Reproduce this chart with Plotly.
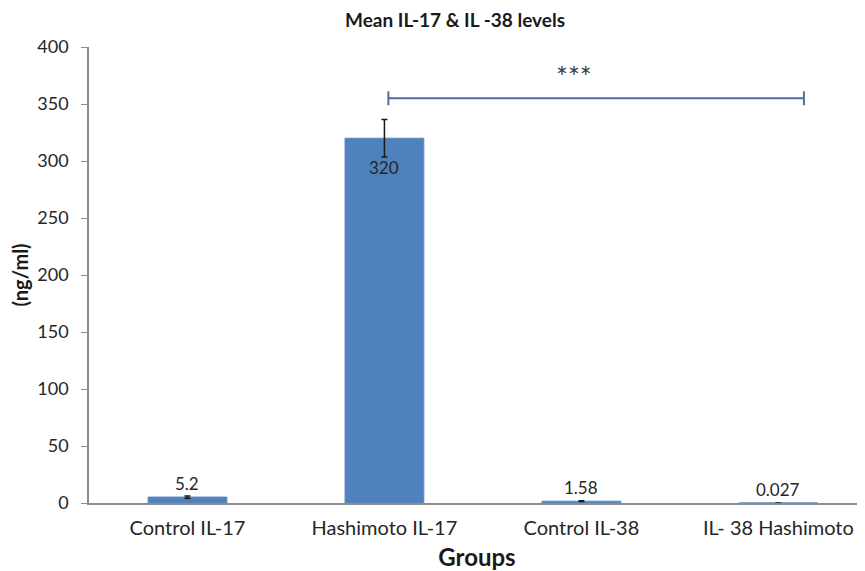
import plotly.graph_objects as go

categories = ["Control IL-17", "Hashimoto IL-17", "Control IL-38", "IL- 38 Hashimoto"]
means = [5.2, 320, 1.58, 0.027]
errors = [1.0, 16.5, 0.3, 0.0]
value_labels = ["5.2", "320", "1.58", "0.027"]
y_ticks = [0, 50, 100, 150, 200, 250, 300, 350, 400]

sig_x = [1.02, 3.13]
sig_y = 355
sig_text = "***"
sig_text_x = 1.96
sig_text_y = 374

FONT = "Lato"
TXT = "#262626"

W, H = 857, 563  # page body has an 8px margin

fig = go.Figure()
fig.add_trace(go.Bar(
    x=list(range(len(categories))), y=means, width=0.4,
    marker=dict(color="#4f81bd", line=dict(color="#5b8cc6", width=1)),
    error_y=dict(type="data", array=errors, visible=True, color="#1a1a1a", thickness=1.5, width=3),
    showlegend=False,
))

# significance bracket
fig.add_trace(go.Scatter(
    x=sig_x, y=[sig_y, sig_y], mode="lines+markers",
    line=dict(color="#4a6fa0", width=2),
    marker=dict(symbol="line-ns", size=10, line=dict(color="#4a6fa0", width=2)),
    showlegend=False, hoverinfo="skip",
))

annotations = []
for i, (v, lab) in enumerate(zip(means, value_labels)):
    if v > 100:
        annotations.append(dict(x=i, y=v, text=lab, showarrow=False, yanchor="top", yshift=-17,
                                font=dict(family=FONT, size=17, color=TXT)))
    else:
        annotations.append(dict(x=i, y=v, text=lab, showarrow=False, yanchor="bottom", yshift=1,
                                font=dict(family=FONT, size=17, color=TXT)))
annotations.append(dict(x=sig_text_x, y=sig_text_y, text=sig_text, showarrow=False,
                        font=dict(family=FONT, size=28, color="#404040")))

fig.update_layout(
    width=W, height=H,
    margin=dict(l=81, r=0, t=39, b=68),
    paper_bgcolor="white", plot_bgcolor="white",
    title=dict(text="<b>Mean IL-17 & IL -38 levels</b>", x=(455 - 8) / W, xanchor="center",
               y=1 - 12 / H, yanchor="middle",
               font=dict(family=FONT, size=19, color="#1a1a1a")),
    xaxis=dict(tickmode="array", tickvals=list(range(len(categories))), ticktext=categories,
               range=[-0.5, 3.44], showline=True, linecolor="#8c8c8c", linewidth=1.5,
               ticks="", showgrid=False, zeroline=False, ticklabelstandoff=6,
               tickfont=dict(family=FONT, size=20, color=TXT),
               title=dict(text="<b>Groups</b>", font=dict(family=FONT, size=24, color="#1a1a1a"),
                          standoff=12)),
    yaxis=dict(range=[0, 400], tickvals=y_ticks, showline=True, linecolor="#8c8c8c", linewidth=1.5,
               ticks="outside", ticklen=6, tickcolor="#8c8c8c", showgrid=False, zeroline=False,
               ticklabelstandoff=9,
               tickfont=dict(family=FONT, size=18, color=TXT),
               title=dict(text="<b>(ng/ml)</b>", font=dict(family=FONT, size=20, color="#1a1a1a"),
                          standoff=6)),
    annotations=annotations,
)

fig.write_html("out.html")
